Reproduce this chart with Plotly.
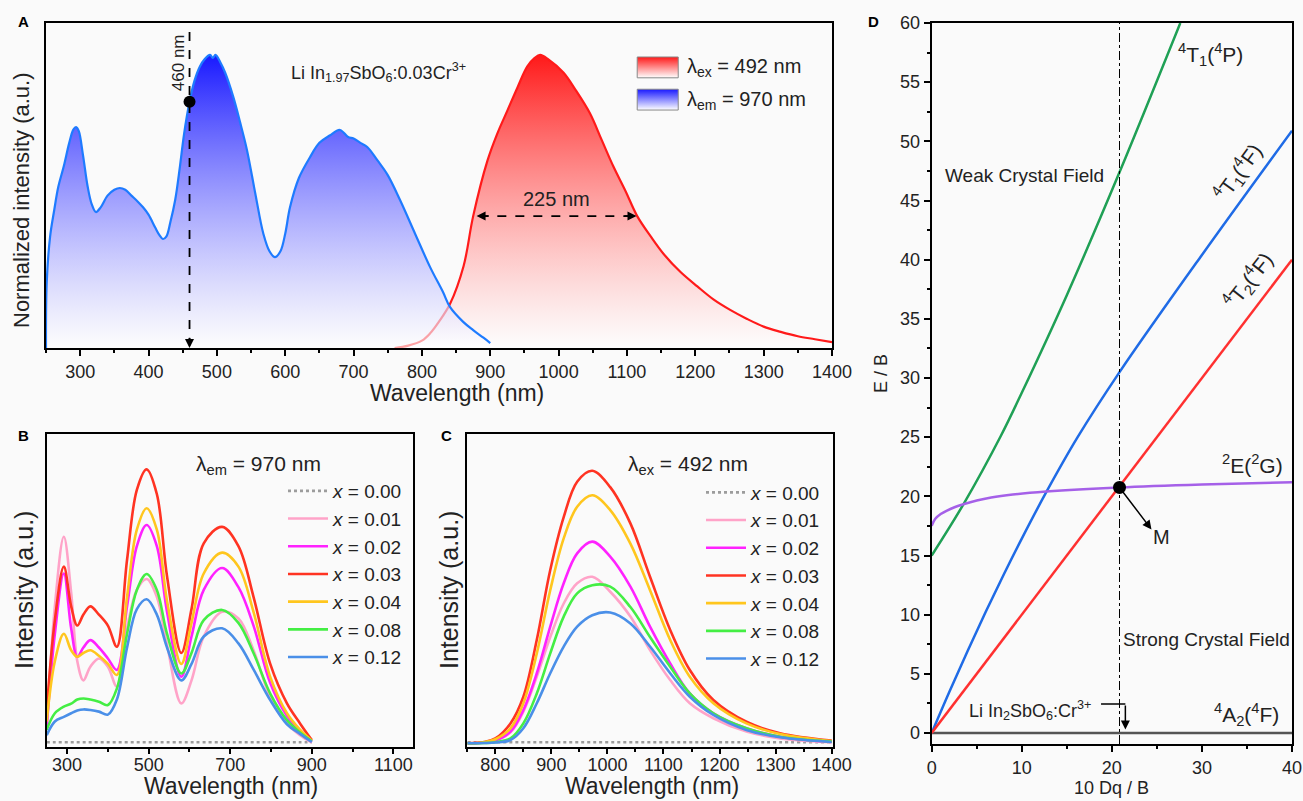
import plotly.graph_objects as go

FONT = "Liberation Sans, Arial, sans-serif"
W, H = 1303, 801

# ---------------- Panel A data ----------------
exc_wl = [250, 251, 256, 262, 268, 276, 284, 290, 294, 298, 304, 311, 317, 323, 330, 340, 350, 358,
          366, 375, 384, 392, 400, 410, 416, 421, 426, 432, 439, 446, 452, 460, 467, 475, 482, 490,
          494, 498, 505, 512, 524, 534, 544, 556, 568, 577, 585, 593, 600, 607, 620, 636, 650, 665,
          680, 692, 700, 710, 720, 735, 750, 768, 790, 812, 831, 841, 860, 875, 890, 900]
exc_int = [0.0, 0.22, 0.38, 0.47, 0.55, 0.62, 0.70, 0.745, 0.754, 0.74, 0.66, 0.55, 0.49, 0.464, 0.48,
           0.52, 0.54, 0.546, 0.54, 0.52, 0.50, 0.48, 0.455, 0.41, 0.385, 0.372, 0.38, 0.43, 0.505,
           0.62, 0.73, 0.84, 0.91, 0.96, 0.985, 1.0, 0.99, 1.0, 0.975, 0.94, 0.857, 0.77, 0.676, 0.53,
           0.39, 0.33, 0.31, 0.33, 0.39, 0.48, 0.58, 0.65, 0.70, 0.725, 0.744, 0.72, 0.715, 0.70, 0.686,
           0.64, 0.59, 0.505, 0.39, 0.276, 0.19, 0.14, 0.09, 0.061, 0.035, 0.017]
emi_wl = [760, 780, 800, 812, 825, 841, 861, 875, 896, 910, 925, 940, 954, 965, 973, 985, 1007, 1025,
          1046, 1063, 1080, 1098, 1115, 1135, 1154, 1178, 1203, 1227, 1251, 1275, 1300, 1325, 1350,
          1375, 1400]
emi_int = [0.0, 0.008, 0.025, 0.05, 0.09, 0.15, 0.28, 0.45, 0.64, 0.73, 0.81, 0.89, 0.96, 0.99, 1.0,
           0.985, 0.94, 0.88, 0.80, 0.71, 0.62, 0.535, 0.45, 0.38, 0.32, 0.26, 0.21, 0.165, 0.13, 0.10,
           0.073, 0.055, 0.04, 0.03, 0.02]

# ---------------- Panel B data (excitation, lambda_em = 970 nm) ----------------
b_wl = [250, 270, 292, 310, 325, 340, 357, 378, 400, 422, 447, 471, 495, 520, 545, 580, 605, 635,
        680, 720, 757, 798, 839, 871, 900]
b_x000 = [0.004] * len(b_wl)
b_x001 = [0.05, 0.50, 0.754, 0.55, 0.30, 0.23, 0.28, 0.31, 0.28, 0.207, 0.42, 0.56, 0.60, 0.535,
          0.36, 0.146, 0.23, 0.39, 0.48, 0.456, 0.34, 0.17, 0.073, 0.03, 0.003]
b_x002 = [0.06, 0.40, 0.62, 0.42, 0.316, 0.35, 0.377, 0.35, 0.31, 0.268, 0.50, 0.72, 0.797, 0.72,
          0.48, 0.243, 0.39, 0.56, 0.64, 0.57, 0.43, 0.22, 0.10, 0.045, 0.006]
b_x003 = [0.12, 0.45, 0.645, 0.50, 0.43, 0.47, 0.50, 0.47, 0.43, 0.353, 0.67, 0.925, 1.0, 0.91,
          0.61, 0.33, 0.49, 0.73, 0.79, 0.72, 0.535, 0.29, 0.146, 0.073, 0.012]
b_x004 = [0.08, 0.30, 0.40, 0.34, 0.316, 0.33, 0.34, 0.32, 0.29, 0.25, 0.535, 0.78, 0.858, 0.78,
          0.52, 0.29, 0.44, 0.62, 0.696, 0.645, 0.48, 0.243, 0.11, 0.05, 0.01]
b_x008 = [0.05, 0.11, 0.134, 0.145, 0.16, 0.164, 0.16, 0.152, 0.14, 0.20, 0.40, 0.56, 0.618, 0.56,
          0.40, 0.255, 0.33, 0.45, 0.487, 0.44, 0.33, 0.182, 0.085, 0.04, 0.008]
b_x012 = [0.03, 0.08, 0.097, 0.11, 0.12, 0.124, 0.122, 0.116, 0.105, 0.16, 0.35, 0.49, 0.526, 0.47,
          0.35, 0.23, 0.29, 0.39, 0.42, 0.365, 0.27, 0.158, 0.07, 0.035, 0.005]

# ---------------- Panel C data (emission, lambda_ex = 492 nm) ----------------
c_wl = [750, 780, 800, 827, 850, 874, 898, 922, 946, 973, 1005, 1041, 1076, 1112, 1147, 1189,
        1248, 1308, 1400]
c_x000 = [0.004] * len(c_wl)
c_x001 = [0, 0.003, 0.01, 0.04, 0.116, 0.245, 0.39, 0.513, 0.587, 0.611, 0.556, 0.465, 0.342,
          0.232, 0.147, 0.092, 0.043, 0.018, 0.004]
c_x002 = [0, 0.003, 0.01, 0.043, 0.122, 0.257, 0.428, 0.587, 0.697, 0.74, 0.685, 0.575, 0.428,
          0.293, 0.183, 0.11, 0.055, 0.024, 0.005]
c_x003 = [0, 0.005, 0.018, 0.073, 0.171, 0.38, 0.636, 0.83, 0.96, 1.0, 0.94, 0.807, 0.611,
          0.416, 0.269, 0.159, 0.079, 0.037, 0.01]
c_x004 = [0, 0.004, 0.015, 0.055, 0.147, 0.33, 0.562, 0.752, 0.868, 0.91, 0.856, 0.733, 0.562,
          0.379, 0.244, 0.147, 0.073, 0.034, 0.008]
c_x008 = [0, 0.001, 0.004, 0.018, 0.073, 0.183, 0.33, 0.465, 0.55, 0.58, 0.575, 0.5, 0.39,
          0.281, 0.183, 0.11, 0.055, 0.024, 0.006]
c_x012 = [0, 0.001, 0.003, 0.012, 0.055, 0.147, 0.257, 0.355, 0.428, 0.47, 0.48, 0.44, 0.355,
          0.257, 0.171, 0.104, 0.049, 0.022, 0.005]

conc_labels = ["0.00", "0.01", "0.02", "0.03", "0.04", "0.08", "0.12"]
conc_colors = ["#9c9c9c", "#ffa3c8", "#ff22ff", "#ff3322", "#ffc61e", "#44ee44", "#4a8fe8"]
b_series = [b_x000, b_x001, b_x002, b_x003, b_x004, b_x008, b_x012]
c_series = [c_x000, c_x001, c_x002, c_x003, c_x004, c_x008, c_x012]

# ---------------- Panel D data (Tanabe-Sugano) ----------------
dq_4A2 = [0, 40]
e_4A2 = [0, 0]
dq_4T2 = [0, 40]
e_4T2 = [0, 40]
dq_4T1F = [0, 2, 4, 6, 8, 10, 12.7, 16.2, 20.85, 30, 40]
e_4T1F = [0, 3.54, 6.95, 10.24, 13.4, 16.43, 20.33, 25.0, 30.5, 40.4, 50.9]
dq_4T1P = [0, 3.6, 7.67, 10, 15, 20.8, 27.6]
e_4T1P = [15, 19.43, 25.1, 28.75, 37.0, 47.3, 60]
dq_2E = [0, 0.4, 1.0, 1.7, 2.6, 3.6, 5, 6.6, 9, 12.7, 20.85, 30, 40]
e_2E = [17.5, 18.1, 18.5, 18.8, 19.1, 19.35, 19.65, 19.9, 20.15, 20.4, 20.75, 21.0, 21.2]
dq_cross = 20.85
e_cross = 20.75
exc_mark_wl = 460
exc_mark_int = 0.84

fig = go.Figure()

# ---- Panel A ----
fig.add_trace(go.Scatter(
    x=emi_wl, y=emi_int, mode="lines", line=dict(color="#ff1a1a", width=2.2, shape="spline"),
    fill="tozeroy", fillgradient=dict(type="vertical",
                                      colorscale=[[0, "rgba(255,255,255,0.6)"], [1, "rgb(255,25,25)"]]),
    xaxis="x", yaxis="y", showlegend=False, hoverinfo="skip"))
fig.add_trace(go.Scatter(
    x=exc_wl, y=exc_int, mode="lines", line=dict(color="#1e7bff", width=2.2, shape="spline"),
    fill="tozeroy", fillgradient=dict(type="vertical",
                                      colorscale=[[0, "rgba(255,255,255,0.6)"], [1, "rgb(25,25,255)"]]),
    xaxis="x", yaxis="y", showlegend=False, hoverinfo="skip"))
fig.add_trace(go.Scatter(
    x=[exc_mark_wl], y=[exc_mark_int], mode="markers",
    marker=dict(color="black", size=12), xaxis="x", yaxis="y", showlegend=False))

# legend swatches for panel A
sw_x = [1115, 1175, 1175, 1115, 1115]
fig.add_trace(go.Scatter(
    x=sw_x, y=[0.922, 0.922, 0.993, 0.993, 0.922], mode="lines", fill="toself",
    line=dict(color="#888888", width=1),
    fillgradient=dict(type="vertical", colorscale=[[0, "rgb(255,255,255)"], [1, "rgb(255,25,25)"]]),
    xaxis="x", yaxis="y", showlegend=False, hoverinfo="skip"))
fig.add_trace(go.Scatter(
    x=sw_x, y=[0.812, 0.812, 0.883, 0.883, 0.812], mode="lines", fill="toself",
    line=dict(color="#888888", width=1),
    fillgradient=dict(type="vertical", colorscale=[[0, "rgb(255,255,255)"], [1, "rgb(25,25,255)"]]),
    xaxis="x", yaxis="y", showlegend=False, hoverinfo="skip"))

# ---- Panel B & C ----
for lab, col, yb, yc in zip(conc_labels, conc_colors, b_series, c_series):
    dash = "dot" if lab == "0.00" else "solid"
    fig.add_trace(go.Scatter(
        x=b_wl, y=yb, mode="lines", name="<i>x</i> = " + lab,
        line=dict(color=col, width=2.6, dash=dash, shape="spline"),
        xaxis="x2", yaxis="y2", legend="legend2"))
    fig.add_trace(go.Scatter(
        x=c_wl, y=yc, mode="lines", name="<i>x</i> = " + lab,
        line=dict(color=col, width=2.6, dash=dash, shape="spline"),
        xaxis="x3", yaxis="y3", legend="legend3"))

# ---- Panel D ----
fig.add_trace(go.Scatter(x=dq_4A2, y=e_4A2, mode="lines", line=dict(color="#555555", width=2.5),
                         xaxis="x4", yaxis="y4", showlegend=False))
fig.add_trace(go.Scatter(x=dq_4T1P, y=e_4T1P, mode="lines",
                         line=dict(color="#1fa055", width=2.5, shape="spline"),
                         xaxis="x4", yaxis="y4", showlegend=False))
fig.add_trace(go.Scatter(x=dq_4T1F, y=e_4T1F, mode="lines",
                         line=dict(color="#1f6be6", width=2.5, shape="spline"),
                         xaxis="x4", yaxis="y4", showlegend=False))
fig.add_trace(go.Scatter(x=dq_4T2, y=e_4T2, mode="lines", line=dict(color="#ff3030", width=2.5),
                         xaxis="x4", yaxis="y4", showlegend=False))
fig.add_trace(go.Scatter(x=dq_2E, y=e_2E, mode="lines",
                         line=dict(color="#a560e8", width=2.5, shape="spline"),
                         xaxis="x4", yaxis="y4", showlegend=False))
fig.add_trace(go.Scatter(x=[dq_cross], y=[e_cross], mode="markers", marker=dict(color="black", size=13),
                         xaxis="x4", yaxis="y4", showlegend=False))


def px(x):
    return x / W


def py(y):
    return 1 - y / H


axis_common = dict(showline=True, linecolor="black", linewidth=2, mirror=True, showgrid=False,
                   zeroline=False, automargin=False,
                   tickfont=dict(size=18, color="#222"), tickcolor="black")

fig.update_layout(
    template="none",
    width=W, height=H, margin=dict(l=0, r=0, t=0, b=0, pad=0), autosize=False,
    paper_bgcolor="#fafafa", plot_bgcolor="#fafafa",
    font=dict(family=FONT, color="#222"),
    xaxis=dict(domain=[px(46), px(832)], range=[250, 1400], anchor="y", tick0=0, dtick=100,
               ticks="outside", ticklen=6, tickwidth=1.5,
               minor=dict(dtick=50, ticks="outside", ticklen=3, tickcolor="black"), **axis_common),
    yaxis=dict(domain=[py(348), py(23)], range=[0, 1.109], anchor="x", showticklabels=False,
               ticks="", **axis_common),
    xaxis2=dict(domain=[px(46.7), px(413)], range=[250, 1148], anchor="y2", tick0=300, dtick=200,
                ticks="outside", ticklen=5, tickwidth=1.5, ticklabelstandoff=-4,
                minor=dict(dtick=100, ticks="outside", ticklen=3, tickcolor="black"), **axis_common),
    yaxis2=dict(domain=[py(746.7), py(434)], range=[-0.012, 1.129], anchor="x2", showticklabels=False,
                ticks="", **axis_common),
    xaxis3=dict(domain=[px(467.3), px(833.3)], range=[750, 1403], anchor="y3", tick0=0, dtick=100,
                ticks="outside", ticklen=5, tickwidth=1.5, ticklabelstandoff=-4,
                minor=dict(dtick=50, ticks="outside", ticklen=3, tickcolor="black"), **axis_common),
    yaxis3=dict(domain=[py(746.7), py(434)], range=[-0.0125, 1.135], anchor="x3", showticklabels=False,
                ticks="", **axis_common),
    xaxis4=dict(domain=[px(931.7), px(1292)], range=[0, 40], anchor="y4", tick0=0, dtick=10,
                ticks="outside", ticklen=6, tickwidth=1.5,
                minor=dict(dtick=5, ticks="outside", ticklen=3, tickcolor="black"), **axis_common),
    yaxis4=dict(domain=[py(744), py(23)], range=[-0.93, 60], anchor="x4", tick0=0, dtick=5,
                ticks="outside", ticklen=6, tickwidth=1.5,
                minor=dict(dtick=2.5, ticks="outside", ticklen=3, tickcolor="black"), **axis_common),
    legend2=dict(x=px(283), y=py(472), xanchor="left", yanchor="top", bgcolor="rgba(0,0,0,0)",
                 font=dict(size=19, color="#222"), itemwidth=40, tracegroupgap=0),
    legend3=dict(x=px(701), y=py(473.5), xanchor="left", yanchor="top", bgcolor="rgba(0,0,0,0)",
                 font=dict(size=19, color="#222"), itemwidth=40, tracegroupgap=0),
)

ann = []


def A(**kw):
    d = dict(showarrow=False, xanchor="center", yanchor="middle",
             font=dict(family=FONT, size=18, color="#222"))
    d.update(kw)
    ann.append(d)


# panel letters
for letter, lx, ly in [("A", 23, 22), ("B", 23, 435), ("C", 447, 435), ("D", 873, 22)]:
    A(text="<b>%s</b>" % letter, x=px(lx), y=py(ly), xref="paper", yref="paper",
      font=dict(family=FONT, size=15, color="black"))

# axis titles
A(text="Wavelength (nm)", x=px(457), y=py(393), xref="paper", yref="paper",
  font=dict(family=FONT, size=23, color="#222"))
A(text="Normalized intensity (a.u.)", x=px(22), y=py(200), xref="paper", yref="paper", textangle=-90,
  font=dict(family=FONT, size=22, color="#222"))
A(text="Wavelength (nm)", x=px(231), y=py(786), xref="paper", yref="paper",
  font=dict(family=FONT, size=23, color="#222"))
A(text="Intensity (a.u.)", x=px(24), y=py(590), xref="paper", yref="paper", textangle=-90,
  font=dict(family=FONT, size=25, color="#222"))
A(text="Wavelength (nm)", x=px(652), y=py(786), xref="paper", yref="paper",
  font=dict(family=FONT, size=23, color="#222"))
A(text="Intensity (a.u.)", x=px(449), y=py(590), xref="paper", yref="paper", textangle=-90,
  font=dict(family=FONT, size=25, color="#222"))
A(text="10 Dq / B", x=px(1111), y=py(788), xref="paper", yref="paper",
  font=dict(family=FONT, size=18, color="#222"))
A(text="E / B", x=px(881), y=py(373), xref="paper", yref="paper", textangle=-90,
  font=dict(family=FONT, size=18, color="#222"))

# Panel A texts
A(text="Li In<sub>1.97</sub>SbO<sub>6</sub>:0.03Cr<sup>3+</sup>", x=737, y=0.94, xref="x", yref="y",
  font=dict(family=FONT, size=18, color="#222"))
A(text="460 nm", x=443, y=0.975, xref="x", yref="y", textangle=-90,
  font=dict(family=FONT, size=17, color="#222"))
A(text="225 nm", x=997, y=0.508, xref="x", yref="y", font=dict(family=FONT, size=20, color="#222"))
A(text="λ<sub>ex</sub> = 492 nm", x=1185, y=0.958, xref="x", yref="y", xanchor="left",
  font=dict(family=FONT, size=20, color="#222"))
A(text="λ<sub>em</sub> = 970 nm", x=1185, y=0.846, xref="x", yref="y", xanchor="left",
  font=dict(family=FONT, size=20, color="#222"))
# arrowheads
A(text="", x=exc_mark_wl, y=0.0, ax=exc_mark_wl, ay=0.04, xref="x", yref="y", axref="x", ayref="y",
  showarrow=True, arrowhead=2, arrowsize=1.2, arrowwidth=1.5, arrowcolor="black")
A(text="", x=880, y=0.45, ax=900, ay=0.45, xref="x", yref="y", axref="x", ayref="y",
  showarrow=True, arrowhead=2, arrowsize=1.2, arrowwidth=1.5, arrowcolor="black")
A(text="", x=1114, y=0.45, ax=1094, ay=0.45, xref="x", yref="y", axref="x", ayref="y",
  showarrow=True, arrowhead=2, arrowsize=1.2, arrowwidth=1.5, arrowcolor="black")

# Panel B/C titles
A(text="λ<sub>em</sub> = 970 nm", x=px(258), y=py(465), xref="paper", yref="paper",
  font=dict(family=FONT, size=21, color="#222"))
A(text="λ<sub>ex</sub> = 492 nm", x=px(688), y=py(465), xref="paper", yref="paper",
  font=dict(family=FONT, size=21, color="#222"))

# Panel D texts
A(text="Weak Crystal Field", x=10.3, y=47.1, xref="x4", yref="y4", font=dict(family=FONT, size=19, color="#222"))
A(text="Strong Crystal Field", x=21.0, y=7.9, xref="x4", yref="y4", xanchor="left",
  font=dict(family=FONT, size=19, color="#222"))
A(text="<sup>4</sup>T<sub>1</sub>(<sup>4</sup>P)", x=31.0, y=57.3, xref="x4", yref="y4",
  font=dict(family=FONT, size=21, color="#222"))
A(text="<sup>4</sup>T<sub>1</sub>(<sup>4</sup>F)", x=34.0, y=47.4, xref="x4", yref="y4", textangle=-54,
  font=dict(family=FONT, size=21, color="#222"))
A(text="<sup>4</sup>T<sub>2</sub>(<sup>4</sup>F)", x=35.2, y=38.2, xref="x4", yref="y4", textangle=-52,
  font=dict(family=FONT, size=21, color="#222"))
A(text="<sup>2</sup>E(<sup>2</sup>G)", x=35.6, y=22.7, xref="x4", yref="y4",
  font=dict(family=FONT, size=21, color="#222"))
A(text="<sup>4</sup>A<sub>2</sub>(<sup>4</sup>F)", x=35.0, y=1.6, xref="x4", yref="y4",
  font=dict(family=FONT, size=21, color="#222"))
A(text="Li In<sub>2</sub>SbO<sub>6</sub>:Cr<sup>3+</sup>", x=10.9, y=1.9, xref="x4", yref="y4",
  font=dict(family=FONT, size=18, color="#222"))
A(text="M", x=25.5, y=16.6, xref="x4", yref="y4", font=dict(family=FONT, size=20, color="#222"))
A(text="", x=24.4, y=17.2, ax=dq_cross, ay=e_cross, xref="x4", yref="y4", axref="x4", ayref="y4",
  showarrow=True, arrowhead=2, arrowsize=1.2, arrowwidth=1.5, arrowcolor="black")
A(text="", x=21.5, y=0.3, ax=21.5, ay=2.45, xref="x4", yref="y4", axref="x4", ayref="y4",
  showarrow=True, arrowhead=2, arrowsize=1.2, arrowwidth=1.5, arrowcolor="black")

fig.update_layout(annotations=ann)

shapes = [
    dict(type="line", xref="x", yref="y", x0=exc_mark_wl, x1=exc_mark_wl, y0=1.078, y1=0.02,
         line=dict(color="black", width=1.8, dash="dash")),
    dict(type="line", xref="x", yref="y", x0=884, x1=1110, y0=0.45, y1=0.45,
         line=dict(color="black", width=1.8, dash="dash")),
    dict(type="line", xref="x4", yref="y4", x0=dq_cross, x1=dq_cross, y0=-0.93, y1=60,
         line=dict(color="black", width=1, dash="dashdot")),
    dict(type="line", xref="x4", yref="y4", x0=18.8, x1=21.5, y0=2.45, y1=2.45,
         line=dict(color="black", width=1.5)),
]
fig.update_layout(shapes=shapes)

fig.write_html("out.html", config={"displayModeBar": False},
               post_script="document.body.style.margin='0';")
